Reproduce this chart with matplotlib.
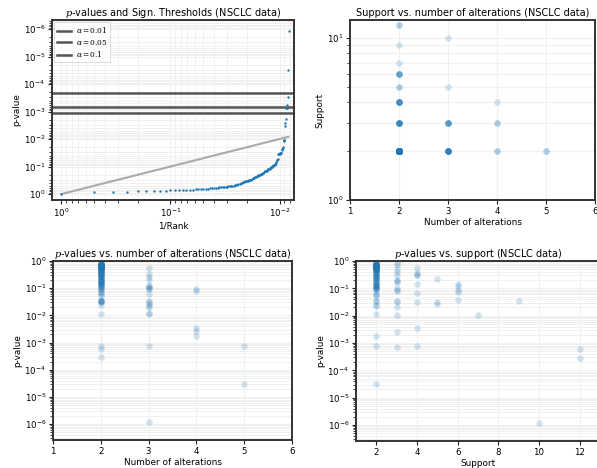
import numpy as np
import matplotlib
matplotlib.use("Agg")
import matplotlib.pyplot as plt
from matplotlib.ticker import LogLocator, NullFormatter, MultipleLocator

plt.rcParams["mathtext.fontset"] = "dejavuserif"

# p-values grouped by (number of alterations, support)
p_a2_s2 = [0.97, 0.83, 0.81, 0.80, 0.78, 0.77, 0.76, 0.75, 0.74, 0.72, 0.71, 0.70,
           0.69, 0.69, 0.68, 0.67, 0.66,
           0.65, 0.64, 0.63, 0.62, 0.61, 0.60, 0.59, 0.58, 0.57, 0.56, 0.55, 0.54,
           0.53, 0.52, 0.51, 0.50, 0.49, 0.48,
           0.46, 0.44, 0.42, 0.40, 0.38, 0.37, 0.35, 0.33, 0.31,
           0.28, 0.27, 0.26, 0.25, 0.24, 0.23, 0.21, 0.20, 0.19, 0.18, 0.17, 0.16,
           0.15, 0.14, 0.13, 0.12, 0.11, 0.105,
           0.10, 0.06, 0.052, 0.033, 0.024]
p_a2_s3 = [0.87, 0.70, 0.50, 0.40, 0.30, 0.18, 0.17, 0.085, 0.035]
p_a2_s4 = [0.55, 0.35, 0.32, 0.30, 0.15, 0.068, 0.031, 7.6e-4]
p_a2_s5 = [0.22, 0.031]
p_a2_s6 = [0.14, 0.12, 0.09, 0.075, 0.036]
p_a2_s7 = [0.011]
p_a2_s9 = [0.034]
p_a2_s12 = [6.0e-4, 2.9e-4]
p_a3_s2 = [0.55, 0.33, 0.25, 0.12, 0.12, 0.10, 0.09, 0.06, 0.035, 0.022, 0.012]
p_a3_s3 = [0.20, 0.10, 0.032, 0.020, 0.011, 7.2e-4]
p_a3_s5 = [0.026]
p_a3_s10 = [1.2e-6]
p_a4_s2 = [0.095, 1.8e-3]
p_a4_s3 = [0.08, 2.6e-3]
p_a4_s4 = [3.5e-3]
p_a5_s2 = [7.5e-4, 3.1e-5]

groups = [
    (2, 2, p_a2_s2), (2, 3, p_a2_s3), (2, 4, p_a2_s4), (2, 5, p_a2_s5),
    (2, 6, p_a2_s6), (2, 7, p_a2_s7), (2, 9, p_a2_s9), (2, 12, p_a2_s12),
    (3, 2, p_a3_s2), (3, 3, p_a3_s3), (3, 5, p_a3_s5), (3, 10, p_a3_s10),
    (4, 2, p_a4_s2), (4, 3, p_a4_s3), (4, 4, p_a4_s4), (5, 2, p_a5_s2),
]

# significance thresholds
alphas = [0.01, 0.05, 0.1]
thresholds = [2.1e-4, 6.7e-4, 1.1e-3]

n_alt, support, pvals = [], [], []
for a, s, ps in groups:
    for p in ps:
        n_alt.append(a)
        support.append(s)
        pvals.append(p)
n_alt = np.array(n_alt)
support = np.array(support)
pvals = np.array(pvals)

sorted_p = np.sort(pvals)[::-1]
rank = np.arange(1, len(sorted_p) + 1)
inv_rank = 1.0 / rank

W, H = 597, 468
fig = plt.figure(figsize=(W / 100, H / 100), dpi=100)

def box(l, t, r, b):
    return [l / W, 1 - b / H, (r - l) / W, (b - t) / H]

ax1 = fig.add_axes(box(52, 20, 294, 200))
ax2 = fig.add_axes(box(350, 20, 595, 200))
ax3 = fig.add_axes(box(53, 261, 292, 440))
ax4 = fig.add_axes(box(356, 261, 600, 441))

FS = 6.2
LFS = 6.4
TFS = 7.0
grid_col = "#f0f0f0"
spine_col = "#333333"

def style(ax):
    for sp in ax.spines.values():
        sp.set_color(spine_col)
        sp.set_linewidth(1.4)
    ax.tick_params(which="both", labelsize=FS, color="#222222", pad=2)
    ax.tick_params(which="major", length=3, width=0.8)
    ax.tick_params(which="minor", length=2, width=0.6)
    ax.set_axisbelow(True)

def logy(ax):
    ax.set_yscale("log")
    ax.yaxis.set_major_locator(LogLocator(base=10, numticks=15))
    ax.yaxis.set_minor_locator(LogLocator(base=10, subs=np.arange(2, 10), numticks=15))
    ax.yaxis.set_minor_formatter(NullFormatter())

# panel 1: p-values vs 1/rank
style(ax1)
ax1.set_xscale("log")
logy(ax1)
ax1.xaxis.set_major_locator(LogLocator(base=10, numticks=15))
ax1.xaxis.set_minor_locator(LogLocator(base=10, subs=np.arange(2, 10), numticks=15))
ax1.xaxis.set_minor_formatter(NullFormatter())
ax1.grid(True, which="both", color=grid_col, lw=0.7)
for a, t in zip(alphas, thresholds):
    ax1.axhline(t, color="#555555", lw=1.8, label=r"$\alpha = %g$" % a)
ax1.plot([1, inv_rank[-1]], [1, inv_rank[-1]], color="#aaaaaa", lw=1.5)
ax1.scatter(inv_rank, sorted_p, s=3, color="#1f77b4", zorder=3, linewidths=0)
ax1.set_xlim(10 ** 0.087, 10 ** -2.133)
ax1.set_ylim(1.65, 4.7e-7)
ax1.set_xlabel("1/Rank", fontsize=LFS, labelpad=1.5)
ax1.set_ylabel("p-value", fontsize=LFS, labelpad=1.5)
ax1.set_title(r"$p$-values and Sign. Thresholds (NSCLC data)", fontsize=TFS, pad=3)
leg = ax1.legend(loc="upper left", fontsize=5.3, frameon=True, handlelength=1.9,
                 borderpad=0.4, labelspacing=0.35, borderaxespad=0.3, handletextpad=0.6)
leg.get_frame().set_edgecolor("#cccccc")
leg.get_frame().set_linewidth(0.6)

# panel 2: support vs number of alterations
style(ax2)
logy(ax2)
ax2.scatter(n_alt, support, s=22, color="#1f77b4", alpha=0.2, linewidths=0)
ax2.set_xlim(1, 6)
ax2.set_ylim(1, 12.85)
ax2.xaxis.set_major_locator(MultipleLocator(1))
ax2.grid(True, which="major", axis="x", color=grid_col, lw=0.8)
ax2.grid(True, which="both", axis="y", color=grid_col, lw=0.8)
ax2.set_xlabel("Number of alterations", fontsize=LFS, labelpad=1.5)
ax2.set_ylabel("Support", fontsize=LFS, labelpad=1.5)
ax2.set_title("Support vs. number of alterations (NSCLC data)", fontsize=TFS, pad=3)

# panel 3: p-values vs number of alterations
style(ax3)
logy(ax3)
ax3.scatter(n_alt, pvals, s=22, color="#1f77b4", alpha=0.2, linewidths=0)
ax3.set_xlim(1, 6)
ax3.set_ylim(2.6e-7, 1)
ax3.xaxis.set_major_locator(MultipleLocator(1))
ax3.grid(True, which="major", axis="x", color=grid_col, lw=0.8)
ax3.grid(True, which="both", axis="y", color=grid_col, lw=0.7)
ax3.set_xlabel("Number of alterations", fontsize=LFS, labelpad=1.5)
ax3.set_ylabel("p-value", fontsize=LFS, labelpad=1.5)
ax3.set_title(r"$p$-values vs. number of alterations (NSCLC data)", fontsize=TFS, pad=3)

# panel 4: p-values vs support
style(ax4)
logy(ax4)
ax4.scatter(support, pvals, s=22, color="#1f77b4", alpha=0.2, linewidths=0)
ax4.set_xlim(1, 13)
ax4.set_ylim(2.6e-7, 1)
ax4.xaxis.set_major_locator(MultipleLocator(2))
ax4.grid(True, which="major", axis="x", color=grid_col, lw=0.8)
ax4.grid(True, which="both", axis="y", color=grid_col, lw=0.7)
ax4.set_xlabel("Support", fontsize=LFS, labelpad=1.5)
ax4.set_ylabel("p-value", fontsize=LFS, labelpad=1.5)
ax4.set_title(r"$p$-values vs. support (NSCLC data)", fontsize=TFS, pad=3)

fig.savefig("out.png", dpi=100)
